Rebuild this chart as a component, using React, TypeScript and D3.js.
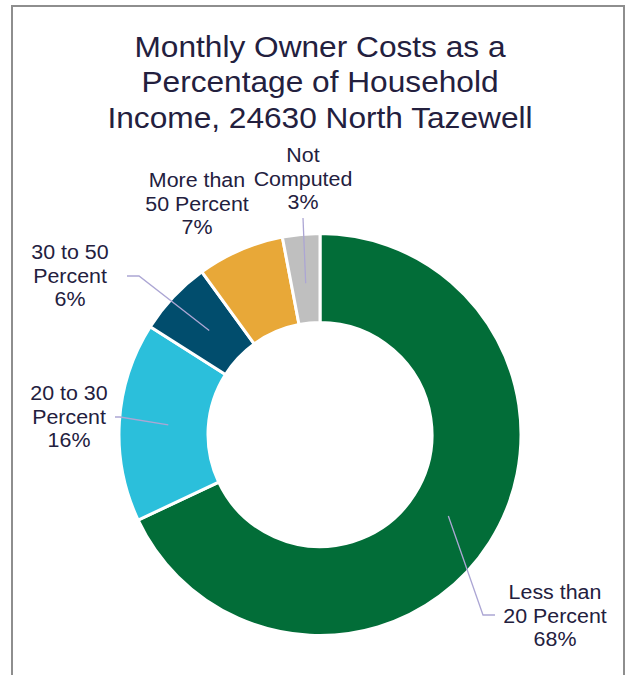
import * as d3 from 'd3';

const width = 629;
const height = 675;

const titleLines = ['Monthly Owner Costs as a', 'Percentage of Household', 'Income, 24630 North Tazewell'];

const categories = ['Less than 20 Percent', '20 to 30 Percent', '30 to 50 Percent', 'More than 50 Percent', 'Not Computed'];
const shares = [68, 16, 6, 7, 3];
const labelLines = [
    ['Less than', '20 Percent'],
    ['20 to 30', 'Percent'],
    ['30 to 50', 'Percent'],
    ['More than', '50 Percent'],
    ['Not', 'Computed'],
];
const colors = ['#026d38', '#2bbfdb', '#014d6d', '#e8a838', '#bfbfbf'];

// label placement (center x, first baseline) and leader-line elbows, in the order of categories
const labelPos: [number, number][] = [
    [555, 599],
    [69, 400],
    [70, 259],
    [197, 187],
    [303, 162],
];
const leaderEnds: ([number, number][] | null)[] = [
    [[483, 615], [495, 615]],
    [[120, 417], [115, 417]],
    [[139, 276], [127, 276]],
    null,
    [[303, 218]],
];

const cx = 320;
const cy = 434.5;
const outerR = 201;
const innerR = 112;
const textColor = '#23203e';
const lineColor = '#aca6d4';
const stretch = 1.07;

export default function App() {
    const data = categories.map((name, i) => ({ name, value: shares[i], i }));
    const pie = d3.pie<(typeof data)[number]>().value((d) => d.value).sort(null);
    const arcs = pie(data);
    const arc = d3.arc<d3.PieArcDatum<(typeof data)[number]>>().innerRadius(innerR).outerRadius(outerR);
    const centroidArc = d3.arc<d3.PieArcDatum<(typeof data)[number]>>().innerRadius(152).outerRadius(152);

    return (
        <div style={{ position: 'absolute', left: 0, top: 0 }}>
            <svg width={width} height={height} style={{ display: 'block', background: '#fff' }}>
                <rect x={12} y={6} width={612} height={720} fill="#fff" stroke="#8e8e8e" strokeWidth={2} />
                <g fontFamily="'Liberation Sans', Arial, sans-serif" fill={textColor}>
                    {titleLines.map((t, i) => (
                        <text
                            key={t}
                            transform={`translate(${cx},${56.5 + i * 35.5}) scale(1.055,1)`}
                            textAnchor="middle"
                            fontSize={30}
                        >
                            {t}
                        </text>
                    ))}
                </g>
                <g transform={`translate(${cx},${cy})`}>
                    {arcs.map((a) => (
                        <path key={a.data.name} d={arc(a) ?? ''} fill={colors[a.data.i]} stroke="#fff" strokeWidth={3} />
                    ))}
                </g>
                <g fill="none" stroke={lineColor} strokeWidth={1.3}>
                    {arcs.map((a) => {
                        const ends = leaderEnds[a.data.i];
                        if (!ends) return null;
                        const [x0, y0] = centroidArc.centroid(a);
                        const pts: [number, number][] = [[cx + x0, cy + y0], ...ends];
                        return <path key={a.data.name} d={d3.line()(pts) ?? ''} />;
                    })}
                </g>
                <g fontFamily="'Liberation Sans', Arial, sans-serif" fill={textColor} fontSize={20}>
                    {arcs.map((a) => {
                        const [lx, ly] = labelPos[a.data.i];
                        const lines = [...labelLines[a.data.i], `${a.data.value}%`];
                        return lines.map((t, j) => (
                            <text
                                key={`${a.data.name}-${j}`}
                                transform={`translate(${lx},${ly + j * 23.5}) scale(${stretch},1)`}
                                textAnchor="middle"
                            >
                                {t}
                            </text>
                        ));
                    })}
                </g>
            </svg>
        </div>
    );
}
